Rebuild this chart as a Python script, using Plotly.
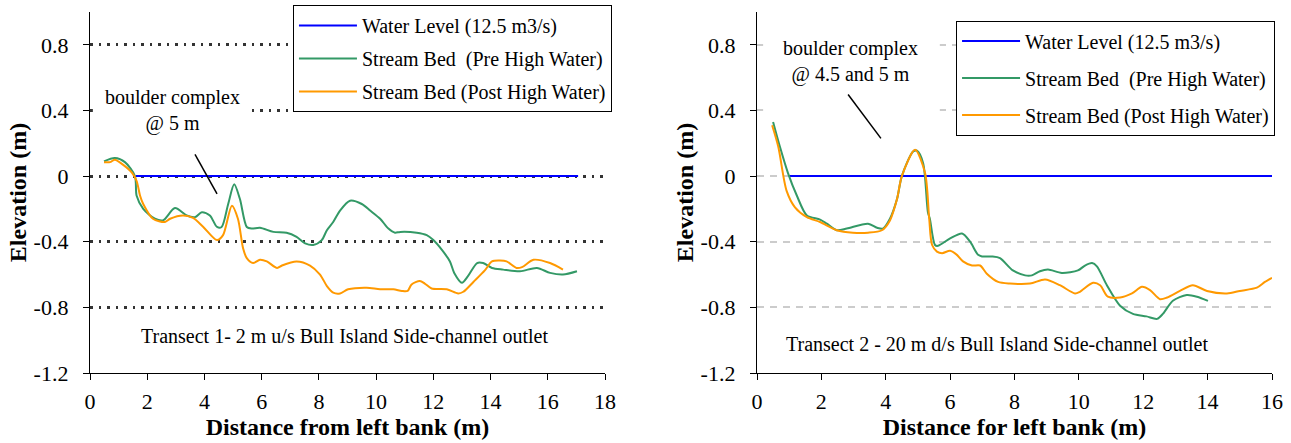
import plotly.graph_objects as go

# ---------------- data ----------------
# Transect 1 (left chart)
water1_x = [1.6, 17.06]
water1_y = [0.0, 0.0]
pre1_x = [0.49, 0.87, 1.22, 1.57, 1.63, 1.86, 2.27, 2.55, 2.97, 3.38, 3.67, 3.91, 4.19, 4.44, 4.6,
          4.83, 5.04, 5.24, 5.48, 5.65, 5.94, 6.41, 6.87, 7.22, 7.52, 7.8, 8.1, 8.28, 8.5, 8.74,
          9.09, 9.5, 9.79, 10.14, 10.43, 10.66, 10.84, 11.42, 11.77, 12.0, 12.3, 12.58, 12.73,
          13.0, 13.21, 13.53, 13.74, 14.05, 14.44, 15.03, 15.62, 16.08, 16.53, 17.02]
pre1_y = [0.09, 0.11, 0.085, 0.0, -0.12, -0.2, -0.26, -0.27, -0.195, -0.24, -0.25, -0.22, -0.24,
          -0.31, -0.31, -0.17, -0.05, -0.14, -0.31, -0.32, -0.315, -0.34, -0.345, -0.37, -0.41,
          -0.42, -0.39, -0.33, -0.28, -0.21, -0.15, -0.17, -0.21, -0.26, -0.32, -0.345, -0.34,
          -0.345, -0.36, -0.39, -0.45, -0.52, -0.59, -0.65, -0.61, -0.53, -0.53, -0.56, -0.57,
          -0.58, -0.56, -0.59, -0.6, -0.58]
post1_x = [0.49, 0.7, 0.87, 1.15, 1.47, 1.63, 1.75, 1.86, 2.2, 2.62, 2.8, 3.25, 3.6, 3.96, 4.44,
           4.65, 4.96, 5.17, 5.35, 5.48, 5.7, 5.94, 6.18, 6.54, 6.71, 7.22, 7.69, 8.04, 8.28, 8.5,
           8.74, 9.02, 9.67, 10.14, 10.6, 10.9, 11.1, 11.24, 11.53, 11.7, 11.94, 12.47, 12.87,
           13.05, 13.4, 13.8, 14.05, 14.33, 14.56, 14.91, 15.1, 15.5, 16.08, 16.53]
post1_y = [0.085, 0.085, 0.1, 0.07, 0.02, -0.03, -0.12, -0.17, -0.26, -0.28, -0.26, -0.24, -0.255,
           -0.31, -0.39, -0.36, -0.18, -0.26, -0.44, -0.5, -0.53, -0.51, -0.52, -0.56, -0.545,
           -0.52, -0.545, -0.6, -0.67, -0.71, -0.715, -0.69, -0.68, -0.69, -0.69, -0.70, -0.70,
           -0.66, -0.64, -0.655, -0.685, -0.69, -0.715, -0.705, -0.645, -0.575, -0.52, -0.515,
           -0.52, -0.56, -0.555, -0.51, -0.53, -0.57]

# Transect 2 (right chart)
water2_x = [1.0, 16.0]
water2_y = [0.0, 0.0]
pre2_x = [0.5, 0.71, 0.96, 1.24, 1.55, 1.96, 2.17, 2.48, 2.79, 3.45, 3.73, 3.91, 4.13, 4.35, 4.5,
          4.85, 4.97, 5.16, 5.31, 5.37, 5.53, 5.62, 6.0, 6.37, 6.62, 6.87, 6.99, 7.3, 7.55, 7.95,
          8.33, 8.54, 8.79, 9.04, 9.47, 9.97, 10.19, 10.41, 10.56, 10.87, 11.28, 11.68, 12.1,
          12.43, 12.61, 12.92, 13.35, 13.67, 14.01]
pre2_y = [0.33, 0.18, 0.02, -0.12, -0.24, -0.265, -0.29, -0.33, -0.32, -0.29, -0.315, -0.32, -0.26,
          -0.14, 0.0, 0.15, 0.155, 0.08, -0.22, -0.26, -0.42, -0.425, -0.38, -0.35, -0.40, -0.48,
          -0.49, -0.49, -0.5, -0.575, -0.605, -0.605, -0.58, -0.57, -0.59, -0.575, -0.545, -0.53,
          -0.55, -0.665, -0.79, -0.84, -0.855, -0.87, -0.84, -0.76, -0.725, -0.735, -0.76]
post2_x = [0.47, 0.66, 0.92, 1.18, 1.55, 1.96, 2.48, 2.98, 3.45, 3.88, 4.13, 4.35, 4.5, 4.91, 5.22,
           5.35, 5.44, 5.59, 5.75, 6.0, 6.21, 6.4, 6.68, 6.93, 7.14, 7.49, 7.86, 8.48, 8.95, 9.41,
           9.88, 10.03, 10.44, 10.66, 10.9, 11.28, 11.65, 11.96, 12.21, 12.52, 12.74, 13.14,
           13.54, 13.98, 14.6, 15.0, 15.53, 15.78, 16.0]
post2_y = [0.31, 0.18, -0.09, -0.19, -0.25, -0.28, -0.33, -0.345, -0.345, -0.33, -0.27, -0.14, 0.0,
           0.16, 0.02, -0.26, -0.42, -0.46, -0.47, -0.455, -0.48, -0.52, -0.545, -0.545, -0.595,
           -0.645, -0.655, -0.655, -0.63, -0.665, -0.715, -0.705, -0.65, -0.665, -0.735, -0.74,
           -0.715, -0.675, -0.695, -0.75, -0.74, -0.70, -0.665, -0.70, -0.715, -0.70, -0.68,
           -0.645, -0.62]

series_names = ["Water Level (12.5 m3/s)", "Stream Bed  (Pre High Water)", "Stream Bed (Post High Water)"]
y_tick_vals = [-1.2, -0.8, -0.4, 0, 0.4, 0.8]
y_tick_text = ["-1.2", "-0.8", "-0.4", "0", "0.4", "0.8"]
x1_ticks = [0, 2, 4, 6, 8, 10, 12, 14, 16, 18]
x2_ticks = [0, 2, 4, 6, 8, 10, 12, 14, 16]

BLUE = "#0000FF"
GREEN = "#339966"
ORANGE = "#FF9900"
FONT = "Liberation Serif"

fig = go.Figure()

def add(xs, ys, name, color, xa, ya, leg, grp):
    fig.add_trace(go.Scatter(
        x=xs, y=ys, name=name, mode="lines", xaxis=xa, yaxis=ya, legend=leg,
        legendgroup=grp,
        line=dict(color=color, width=2, shape="spline", smoothing=0.8),
        hoverinfo="skip"))

add(water1_x, water1_y, series_names[0], BLUE, "x", "y", "legend", "a1")
add(pre1_x, pre1_y, series_names[1], GREEN, "x", "y", "legend", "b1")
add(post1_x, post1_y, series_names[2], ORANGE, "x", "y", "legend", "c1")
add(water2_x, water2_y, series_names[0], BLUE, "x2", "y2", "legend2", "a2")
add(pre2_x, pre2_y, series_names[1], GREEN, "x2", "y2", "legend2", "b2")
add(post2_x, post2_y, series_names[2], ORANGE, "x2", "y2", "legend2", "c2")

tickfont = dict(family=FONT, size=22, color="black")
titlefont = dict(family=FONT, size=24, color="black", weight="bold")

def xaxis(dom, rng, ticks, title, anchor):
    return dict(domain=dom, range=rng, tickvals=ticks, ticktext=[str(t) for t in ticks],
                showline=True, linecolor="black", linewidth=1.3, ticks="outside",
                ticklen=6, tickcolor="black", showgrid=False, zeroline=False,
                tickfont=tickfont, anchor=anchor, ticklabelstandoff=2, automargin=False,
                title=dict(text=title, font=titlefont, standoff=3))

def yaxis(anchor, gridcolor, griddash, gridwidth):
    return dict(range=[-1.2, 1.0], tickvals=y_tick_vals, ticktext=y_tick_text,
                showline=True, linecolor="black", linewidth=1.3, ticks="outside",
                ticklen=6, tickcolor="black", showgrid=True, gridcolor=gridcolor,
                griddash=griddash, gridwidth=gridwidth, zeroline=False,
                tickfont=tickfont, anchor=anchor, ticklabelstandoff=10, automargin=False,
                title=dict(text="Elevation (m)", font=titlefont, standoff=0))

legfont = dict(family=FONT, size=20, color="black")

fig.update_layout(
    width=1291, height=443,
    margin=dict(l=90, r=19, t=12, b=70, autoexpand=False),
    paper_bgcolor="white", plot_bgcolor="white",
    showlegend=True,
    xaxis=xaxis([0, 0.4357], [0, 18], x1_ticks, "Distance from left bank (m)", "y"),
    xaxis2=xaxis([0.5643, 1], [0, 16], x2_ticks, "Distance for left bank (m)", "y2"),
    yaxis=yaxis("x", "#333333", "2.5px,6px", 2.5),
    yaxis2=yaxis("x2", "#cccccc", "7px,6px", 1.5),
    legend=dict(x=0.1717, y=1.0195, xanchor="left", yanchor="top", bgcolor="white",
                bordercolor="black", borderwidth=1, font=legfont, tracegroupgap=4,
                traceorder="grouped", itemwidth=58),
    legend2=dict(x=0.7327, y=0.9764, xanchor="left", yanchor="top", bgcolor="white",
                 bordercolor="black", borderwidth=1, font=legfont, tracegroupgap=8,
                 traceorder="grouped", itemwidth=58),
)

# white masks behind the text boxes (hide gridlines, like the original text boxes)
fig.add_shape(type="rect", xref="x", yref="y", x0=0.1, x1=5.56, y0=0.25, y1=0.56,
              fillcolor="white", line=dict(width=0), layer="between")
fig.add_shape(type="rect", xref="x2", yref="y2", x0=0.19, x1=5.68, y0=0.37, y1=0.88,
              fillcolor="white", line=dict(width=0), layer="between")

# leader lines
fig.add_shape(type="line", xref="x", yref="y", x0=3.67, y0=0.133, x1=4.44, y1=-0.109,
              line=dict(color="black", width=1.5), layer="above")
fig.add_shape(type="line", xref="x2", yref="y2", x0=2.83, y0=0.497, x1=3.85, y1=0.23,
              line=dict(color="black", width=1.5), layer="above")

annfont = dict(family=FONT, size=20, color="black")
fig.add_annotation(xref="x", yref="y", x=2.87, y=0.402, text="boulder complex<br>@ 5 m",
                   showarrow=False, font=annfont, align="center")
fig.add_annotation(xref="x2", yref="y2", x=2.92, y=0.698, text="boulder complex<br>@ 4.5 and 5 m",
                   showarrow=False, font=annfont, align="center")
fig.add_annotation(xref="x", yref="y", x=8.88, y=-0.976,
                   text="Transect 1- 2 m u/s Bull Island Side-channel outlet",
                   showarrow=False, font=dict(family=FONT, size=20, color="black"))
fig.add_annotation(xref="x2", yref="y2", x=7.46, y=-1.024,
                   text="Transect 2 - 20 m d/s Bull Island Side-channel outlet",
                   showarrow=False, font=dict(family=FONT, size=20, color="black"))

fig.write_html("out.html", config={"displayModeBar": False},
               post_script="document.body.style.margin='0';document.body.style.padding='0';")
